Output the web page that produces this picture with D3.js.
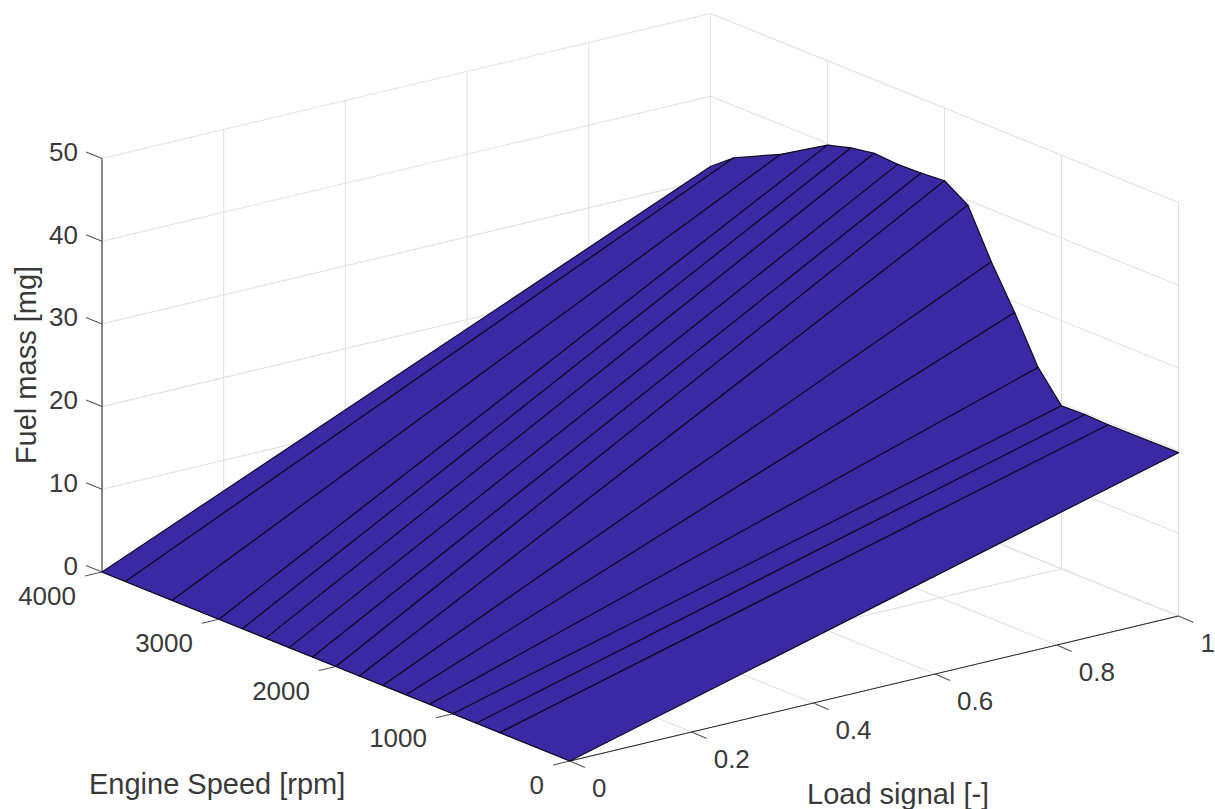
<!DOCTYPE html>
<html>
<head>
<meta charset="utf-8">
<script src="https://cdn.jsdelivr.net/npm/d3@7/dist/d3.min.js"></script>
<style>
html,body{margin:0;padding:0;background:#fff;overflow:hidden}
text{font-family:"Liberation Sans",Arial,sans-serif;fill:#3a3a3a}
</style>
</head>
<body>
<svg id="c" width="1215" height="809"></svg>
<script>
const loadBreaks = [0, 1];
const speedBreaks = [0,600,800,1000,1200,1400,1600,1800,2000,2200,2400,2600,2800,3000,3400,3800,4000];
const fuelAtFullLoad = [19.75,19.7,19.8,19.7,23.2,28.7,33.7,39.4,41.2,41.0,40.9,41.1,40.6,39.8,36.4,33.7,31.5];
const fuelAtZeroLoad = [0,0,0,0,0,0,0,0,0,0,0,0,0,0,0,0,0];
const loadTicks = [0,0.2,0.4,0.6,0.8,1];
const loadTickLabels = ["0","0.2","0.4","0.6","0.8","1"];
const speedTicks = [0,1000,2000,3000,4000];
const speedTickLabels = ["0","1000","2000","3000","4000"];
const fuelTicks = [0,10,20,30,40,50];
const fuelTickLabels = ["0","10","20","30","40","50"];

// orthographic projection built from linear scales
const loadDX = d3.scaleLinear().domain([0,1]).range([0,608.5]);
const loadDY = d3.scaleLinear().domain([0,1]).range([0,-145]);
const speedDX = d3.scaleLinear().domain([0,4000]).range([0,-468]);
const speedDY = d3.scaleLinear().domain([0,4000]).range([0,-189]);
const fuelDY = d3.scaleLinear().domain([0,50]).range([0,-413.5]);
const ox = 570, oy = 761;
const P = (l,s,z) => [ox+loadDX(l)+speedDX(s), oy+loadDY(l)+speedDY(s)+fuelDY(z)];

const svg = d3.select("#c");
const line = d3.line();
const seg = (g,pts,color,w) => g.append("path").attr("d",line(pts)).attr("fill","none").attr("stroke",color).attr("stroke-width",w);

// grid
const grid = svg.append("g");
const gc = "#e1e1e1";
fuelTicks.forEach(z=>{
  seg(grid,[P(0,4000,z),P(1,4000,z)],gc,1.1);
  seg(grid,[P(1,4000,z),P(1,0,z)],gc,1.1);
});
loadTicks.forEach(l=>{
  seg(grid,[P(l,0,0),P(l,4000,0)],gc,1.1);
  if(l>0) seg(grid,[P(l,4000,0),P(l,4000,50)],gc,1.1);
});
speedTicks.forEach(s=>{
  seg(grid,[P(0,s,0),P(1,s,0)],gc,1.1);
  seg(grid,[P(1,s,0),P(1,s,50)],gc,1.1);
});

// axes and ticks
const ax = svg.append("g");
const ac = "#262626";
seg(ax,[P(0,4000,0),P(0,4000,50)],ac,1.1);
seg(ax,[P(0,0,0),P(1,0,0)],ac,1.1);
seg(ax,[P(0,0,0),P(0,4000,0)],ac,1.1);
const tickOff = (p,dx,dy)=>[p[0]+dx,p[1]+dy];
fuelTicks.forEach((z,i)=>{
  const p=P(0,4000,z);
  seg(ax,[p,tickOff(p,-16,-6.5)],"#555",1.1);
  svg.append("text").attr("x",78).attr("y",p[1]-6.5).attr("text-anchor","end")
    .attr("dominant-baseline","central").attr("font-size",26).text(fuelTickLabels[i]);
});
speedTicks.forEach((s,i)=>{
  const p=P(0,s,0);
  seg(ax,[p,tickOff(p,-17,4)],"#555",1.1);
  svg.append("text").attr("x",p[0]-26).attr("y",p[1]+24).attr("text-anchor","end")
    .attr("dominant-baseline","central").attr("font-size",26).text(speedTickLabels[i]);
});
loadTicks.forEach((l,i)=>{
  const p=P(l,0,0);
  seg(ax,[p,tickOff(p,15,6.5)],"#555",1.1);
  svg.append("text").attr("x",p[0]+22).attr("y",p[1]+27).attr("text-anchor","start")
    .attr("dominant-baseline","central").attr("font-size",26).text(loadTickLabels[i]);
});

// surface
const surf = svg.append("g");
for(let i=speedBreaks.length-2;i>=0;i--){
  const s0=speedBreaks[i], s1=speedBreaks[i+1];
  const quad=[
    P(loadBreaks[0],s0,fuelAtZeroLoad[i]),
    P(loadBreaks[1],s0,fuelAtFullLoad[i]),
    P(loadBreaks[1],s1,fuelAtFullLoad[i+1]),
    P(loadBreaks[0],s1,fuelAtZeroLoad[i+1])
  ];
  surf.append("path").attr("d",line(quad)+"Z").attr("fill","#3b29a4")
    .attr("stroke","#0f0b26").attr("stroke-width",1.2).attr("stroke-linejoin","round");
}

// axis titles
svg.append("text").attr("x",807).attr("y",794).attr("dominant-baseline","central").attr("font-size",29).text("Load signal [-]");
svg.append("text").attr("x",89).attr("y",784).attr("dominant-baseline","central").attr("font-size",29).text("Engine Speed [rpm]");
svg.append("text").attr("transform","translate(26,365) rotate(-90)").attr("text-anchor","middle")
  .attr("dominant-baseline","central").attr("font-size",29).text("Fuel mass [mg]");
</script>
</body>
</html>
